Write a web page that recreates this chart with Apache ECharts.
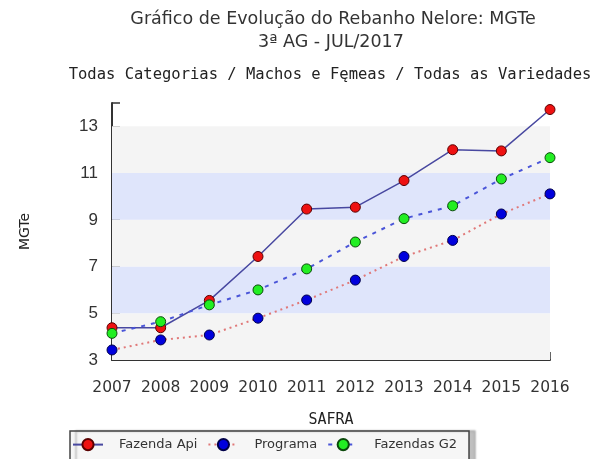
<!DOCTYPE html>
<html>
<head>
<meta charset="utf-8">
<script src="https://cdn.jsdelivr.net/npm/echarts@6/dist/echarts.min.js"></script>
<style>
html,body{margin:0;padding:0;background:#fff}
#c{width:596px;height:459px}
</style>
</head>
<body>
<div id="c"></div>
<script>
// === 資料 ===
const anos=['2007','2008','2009','2010','2011','2012','2013','2014','2015','2016'];
const fazendaApi=[4.38,4.38,5.55,7.43,9.46,9.54,10.68,12.0,11.95,13.72];
const programa=[3.43,3.86,4.07,4.79,5.57,6.42,7.43,8.12,9.25,10.11];
const fazendasG2=[4.14,4.64,5.36,6.0,6.9,8.05,9.05,9.6,10.75,11.66];
const faixas=[[3,5,'#f4f4f4'],[5,7,'#dfe5fb'],[7,9,'#f4f4f4'],[9,11,'#dfe5fb'],[11,13,'#f4f4f4']];

const MONO='"DejaVu Sans Mono",monospace';
const SANS='"DejaVu Sans",sans-serif';
const LIB='"Liberation Sans",sans-serif';

function mk(cor,borda){return {color:cor,borderColor:borda,borderWidth:1}}

const chart=echarts.init(document.getElementById('c'));
chart.setOption({
  animation:false,
  graphic:[
    {type:'text',x:333,y:19,style:{text:'Gráfico de Evolução do Rebanho Nelore: MGTe',font:'17.5px '+SANS,fill:'#333',textAlign:'center',textVerticalAlign:'middle'}},
    {type:'text',x:331,y:42,style:{text:'3ª AG - JUL/2017',font:'17.5px '+SANS,fill:'#333',textAlign:'center',textVerticalAlign:'middle'}},
    {type:'text',x:330,y:75,style:{text:'Todas Categorias / Machos e Fęmeas / Todas as Variedades',font:'15.5px '+MONO,fill:'#222',textAlign:'center',textVerticalAlign:'middle'}}
  ],
  grid:{left:112,right:46,top:103,bottom:99},
  legend:{
    left:70,top:431,
    padding:[7,12,20,2],
    itemWidth:30,itemHeight:14,itemGap:10,
    backgroundColor:'#f6f6f6',borderColor:'#444',borderWidth:1.5,
    shadowColor:'rgba(0,0,0,0.25)',shadowOffsetX:6,shadowBlur:2,
    textStyle:{fontFamily:SANS,fontSize:13,color:'#333',padding:[0,0,0,11]},
    data:['Fazenda Api','Programa','Fazendas G2']
  },
  xAxis:{
    type:'category',data:anos,boundaryGap:false,
    name:'SAFRA',nameLocation:'middle',nameGap:53,
    nameTextStyle:{fontFamily:MONO,fontSize:15,color:'#222'},
    axisLine:{lineStyle:{color:'#333',width:2}},
    axisTick:{inside:true,length:8,interval:0,lineStyle:{color:'#333',width:1.5}},
    axisLabel:{fontFamily:SANS,fontSize:15.5,color:'#333',margin:20,interval:0},
    splitLine:{show:false}
  },
  yAxis:{
    type:'value',min:3,max:14,interval:1,
    name:'MGTe',nameLocation:'middle',nameGap:80,nameRotate:90,
    nameTextStyle:{fontFamily:SANS,fontSize:14,color:'#222'},
    axisLine:{show:true,lineStyle:{color:'#333',width:2}},
    axisTick:{show:true,inside:true,length:8,lineStyle:{color:'#333',width:1.5}},
    axisLabel:{fontFamily:LIB,fontSize:17,color:'#333',margin:14,
      formatter:function(v){return (v%2===1&&v<14)?String(v):''}},
    splitLine:{show:false}
  },
  series:[
    {
      name:'Fazenda Api',type:'line',data:fazendaApi,
      symbol:'circle',symbolSize:10,z:4,
      lineStyle:{color:'#4848a0',width:1.5},
      itemStyle:mk('#ee1111','#5a0000'),
      markArea:{silent:true,
        data:faixas.map(f=>[{yAxis:f[0],itemStyle:{color:f[2]}},{yAxis:f[1]}])}
    },
    {
      name:'Programa',type:'line',data:programa,
      symbol:'circle',symbolSize:10,z:3,
      lineStyle:{color:'#e07878',width:2,type:[2,4]},
      itemStyle:mk('#0000dd','#00004a')
    },
    {
      name:'Fazendas G2',type:'line',data:fazendasG2,
      symbol:'circle',symbolSize:10,z:5,
      lineStyle:{color:'#4a55d8',width:2,type:[4,6]},
      itemStyle:mk('#22ee22','#0b4a0b')
    }
  ]
});
</script>
</body>
</html>
